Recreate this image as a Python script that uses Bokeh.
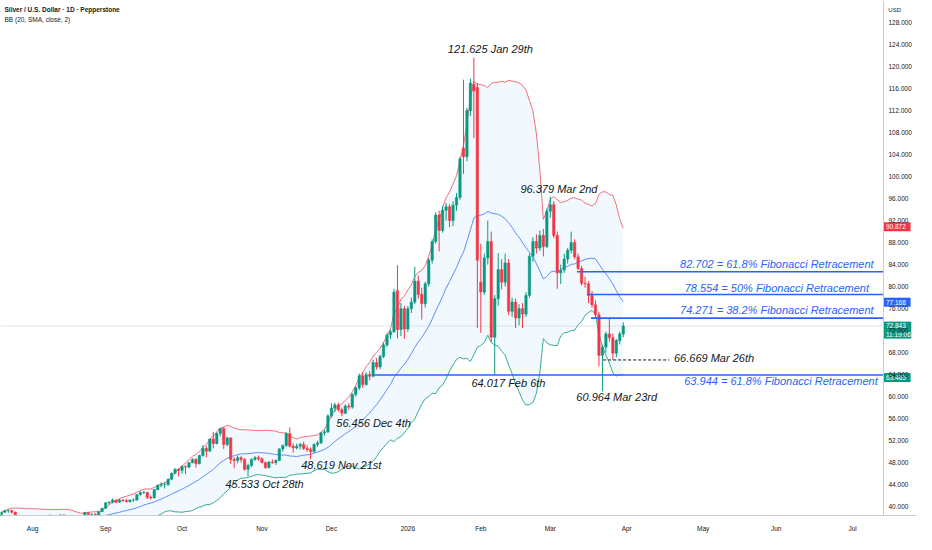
import numpy as np
import pandas as pd
from bokeh.plotting import figure
from bokeh.models import Range1d, LinearAxis, FixedTicker, Label, ColumnDataSource
from bokeh.core.properties import value
from bokeh.embed import file_html
from bokeh.resources import INLINE

# ---------------- data (bar index: Aug 1 2025 = 0, weekdays, Dec 25 / Jan 1 skipped) -------------
first_bar = -28  # Jun 24 2025

opens = [
    # Jun 24 - Jul 18 (warm-up for the bands)
    36.2, 35.9, 36.0, 36.5, 36.0, 36.1, 36.0, 36.1, 36.9, 37.0, 36.7, 36.8, 36.6, 37.0, 38.3, 38.3, 37.7, 37.9, 38.2,
    # Jul 21 - Jul 31
    38.2, 39.0, 39.3, 39.3, 39.0, 38.2, 38.2, 38.2, 37.0,
    # Aug
    36.7, 37.0, 37.3, 37.8, 37.8, 38.3, 38.3, 37.6, 37.9, 38.5, 38.0, 38.0, 38.1, 37.4, 38.0, 38.2, 38.9, 38.6, 38.6, 38.5, 39.1,
    # Sep
    39.7, 40.7, 40.8, 41.2, 40.8, 41.2, 41.1, 40.9, 41.2, 41.2, 42.2, 42.6, 42.6, 41.7, 41.6, 43.1, 43.9, 44.0, 44.0, 45.0, 46.1, 46.8,
    # Oct
    46.6, 47.3, 47.2, 48.0, 48.6, 47.8, 49.3, 50.6, 50.1, 52.3, 51.5, 53.3, 54.2, 51.3, 52.5, 48.6, 48.4, 48.9, 48.6, 46.8, 47.5, 48.6, 48.9,
    # Nov
    48.7, 48.0, 47.1, 48.1, 48.0, 48.4, 50.5, 51.1, 53.3, 51.0, 50.7, 51.0, 51.3, 50.6, 50.4, 50.0, 51.3, 51.6, 53.4, 53.6,
    # Dec
    56.5, 57.9, 58.5, 57.6, 57.0, 58.3, 58.1, 60.4, 61.6, 63.8, 62.2, 64.0, 63.7, 66.2, 65.4, 67.3, 69.4, 71.2, 71.8, 79.3, 72.2, 76.0,
    # Jan
    72.3, 76.0, 77.2, 81.0, 78.6, 76.9, 80.5, 84.8, 88.2, 93.0, 90.2, 93.9, 94.5, 92.0, 94.8, 96.2, 105.2, 103.6, 112.0, 116.8, 116.2,
    # Feb
    80.8, 79.0, 85.2, 88.2, 70.8, 77.8, 83.1, 80.8, 84.3, 75.5, 77.2, 74.3, 76.0, 75.0, 78.4, 85.5, 88.2, 87.0, 89.3, 87.3,
    # Mar
    93.7, 94.9, 89.3, 82.5, 83.0, 85.0, 86.6, 88.0, 85.4, 83.3, 80.6, 80.5, 78.4, 76.7, 74.9, 67.5, 69.0, 71.4, 70.7, 67.9, 70.2, 71.4,
]
highs = [
    36.4, 36.2, 36.8, 36.6, 36.2, 36.4, 36.3, 37.0, 37.2, 37.1, 37.0, 36.9, 37.2, 38.4, 39.1, 38.6, 38.2, 38.3, 38.5,
    39.1, 39.4, 39.5, 39.4, 39.1, 38.4, 38.4, 38.3, 37.2,
    37.3, 37.4, 37.9, 38.0, 38.4, 38.6, 38.4, 38.0, 38.6, 38.6, 38.2, 38.2, 38.2, 38.1, 38.3, 39.0, 39.0, 38.8, 38.8, 39.2, 39.8,
    40.8, 41.0, 41.5, 41.3, 41.4, 41.3, 41.4, 41.3, 41.5, 42.3, 42.8, 42.9, 42.7, 42.0, 43.2, 44.0, 44.4, 44.5, 45.1, 46.2, 47.0, 47.0,
    47.5, 47.5, 48.1, 48.8, 48.8, 49.4, 51.2, 51.0, 52.4, 53.6, 53.5, 54.3, 54.47, 52.7, 52.6, 49.0, 49.3, 49.2, 48.8, 47.8, 48.8, 49.2, 49.3,
    49.0, 48.2, 48.3, 48.6, 48.6, 50.6, 51.3, 53.5, 54.4, 51.5, 51.5, 51.6, 51.8, 51.2, 50.8, 51.5, 52.0, 53.6, 54.0, 56.8,
    58.8, 58.9, 58.9, 58.0, 58.6, 58.8, 60.6, 61.9, 64.2, 64.5, 64.4, 64.6, 66.7, 67.0, 67.6, 69.8, 71.6, 72.2, 79.6, 83.9, 77.0, 76.5,
    76.5, 78.0, 83.6, 82.0, 79.8, 80.9, 85.2, 88.6, 93.5, 93.8, 94.6, 95.2, 95.0, 95.5, 97.0, 103.6, 117.6, 112.5, 117.8, 121.625, 117.0,
    87.8, 86.0, 92.0, 90.0, 78.5, 86.1, 85.0, 86.0, 85.0, 78.0, 77.8, 76.8, 77.0, 79.0, 86.0, 89.0, 89.5, 90.2, 90.5, 94.2,
    96.379, 95.5, 90.0, 84.0, 86.0, 87.0, 90.0, 88.6, 86.0, 83.8, 81.8, 81.0, 79.2, 77.5, 75.4, 69.4, 71.8, 74.3, 71.5, 70.5, 71.8, 73.5,
]
lows = [
    35.6, 35.7, 35.9, 35.8, 35.8, 35.7, 35.8, 36.0, 36.8, 36.4, 36.5, 36.2, 36.5, 36.9, 38.1, 37.6, 37.3, 37.7, 37.9,
    38.0, 38.9, 38.9, 38.8, 38.0, 37.9, 37.9, 36.9, 36.3,
    36.3, 36.9, 37.2, 37.6, 37.7, 38.1, 37.5, 37.4, 37.8, 37.8, 37.9, 37.8, 37.3, 37.3, 37.9, 38.0, 38.5, 38.3, 38.4, 38.4, 39.0,
    39.6, 40.4, 40.6, 40.6, 40.7, 40.9, 40.8, 40.8, 40.9, 41.1, 42.0, 42.3, 41.4, 41.3, 41.5, 43.0, 43.5, 43.3, 43.8, 44.8, 45.9, 45.5,
    46.0, 45.9, 47.0, 47.9, 47.1, 47.7, 49.1, 49.0, 50.0, 50.6, 51.3, 52.8, 50.5, 51.0, 47.8, 47.0, 47.9, 48.0, 46.5, 45.533, 47.2, 48.3, 48.3,
    47.9, 46.9, 47.0, 47.8, 47.6, 48.3, 50.0, 50.9, 50.8, 49.8, 50.4, 50.4, 50.3, 50.0, 48.619, 49.8, 50.9, 51.4, 52.9, 53.4,
    56.2, 57.2, 57.3, 56.456, 56.8, 57.6, 57.8, 60.0, 61.2, 61.6, 62.0, 63.0, 63.5, 64.9, 65.0, 67.0, 69.0, 70.5, 71.6, 70.6, 71.0, 70.5,
    71.8, 75.2, 76.8, 77.8, 74.0, 76.2, 80.0, 84.2, 87.8, 86.4, 89.8, 92.0, 90.8, 91.0, 93.8, 95.8, 100.5, 102.8, 111.0, 107.0, 72.5,
    71.6, 78.5, 84.0, 70.0, 64.017, 76.5, 79.5, 80.0, 74.8, 74.5, 72.5, 73.0, 72.5, 74.5, 78.0, 84.5, 86.0, 86.5, 85.5, 87.0,
    92.5, 88.8, 79.6, 80.5, 82.5, 84.2, 86.0, 85.0, 83.0, 80.2, 79.8, 77.0, 76.2, 74.5, 65.5, 60.964, 68.0, 70.0, 66.669, 67.2, 69.5, 70.8,
]
closes = [
    35.9, 36.0, 36.5, 36.0, 36.1, 36.0, 36.1, 36.9, 37.0, 36.7, 36.8, 36.6, 37.0, 38.3, 38.3, 37.7, 37.9, 38.2, 38.2,
    39.0, 39.3, 39.3, 39.0, 38.2, 38.2, 38.2, 37.0, 36.7,
    37.0, 37.3, 37.8, 37.8, 38.3, 38.3, 37.6, 37.9, 38.5, 38.0, 38.0, 38.1, 37.4, 38.0, 38.2, 38.9, 38.6, 38.6, 38.5, 39.1, 39.7,
    40.7, 40.8, 41.2, 40.8, 41.2, 41.1, 40.9, 41.2, 41.2, 42.2, 42.6, 42.6, 41.7, 41.6, 43.1, 43.9, 44.0, 44.0, 45.0, 46.1, 46.8, 46.6,
    47.3, 47.2, 48.0, 48.6, 47.8, 49.3, 50.6, 50.1, 52.3, 51.5, 53.3, 54.2, 51.3, 52.5, 48.6, 48.4, 48.9, 48.6, 46.8, 47.5, 48.6, 48.9, 48.7,
    48.0, 47.1, 48.1, 48.0, 48.4, 50.5, 51.1, 53.3, 51.0, 50.7, 51.0, 51.3, 50.6, 50.4, 50.0, 51.3, 51.6, 53.4, 53.6, 56.5,
    57.9, 58.5, 57.6, 57.0, 58.3, 58.1, 60.4, 61.6, 63.8, 62.2, 64.0, 63.7, 66.2, 65.4, 67.3, 69.4, 71.2, 71.8, 79.0, 72.2, 76.0, 72.3,
    76.0, 77.2, 81.0, 78.6, 76.9, 80.5, 84.8, 88.2, 93.0, 90.2, 93.9, 94.5, 92.0, 94.8, 96.2, 103.2, 103.6, 112.0, 117.0, 115.6, 84.8,
    79.0, 85.2, 88.2, 70.8, 77.8, 83.1, 80.8, 84.3, 75.5, 77.2, 74.3, 76.0, 75.0, 78.4, 85.5, 88.2, 87.0, 89.3, 87.3, 93.7,
    94.9, 89.3, 82.5, 83.0, 85.0, 86.6, 88.0, 85.4, 83.3, 80.6, 80.5, 78.4, 76.7, 74.9, 67.5, 69.0, 71.4, 70.7, 67.9, 70.2, 71.4, 72.843,
]

month_ticks = [0, 21, 43, 66, 86, 108, 129, 149, 171, 193, 214, 236]
month_labels = ["Aug", "Sep", "Oct", "Nov", "Dec", "2026", "Feb", "Mar", "Apr", "May", "Jun", "Jul"]
price_ticks = list(range(40, 129, 4))
price_tick_labels = ["%d.000" % t for t in price_ticks]

swing_texts = ["121.625 Jan 29th", "96.379 Mar 2nd", "64.017 Feb 6th", "60.964 Mar 23rd",
               "45.533 Oct 28th", "48.619 Nov 21st", "56.456 Dec 4th"]
fib_levels = [82.702, 78.554, 74.271, 63.944]
fib_texts = ["82.702 = 61.8% Fibonacci Retracement", "78.554 = 50% Fibonacci Retracement",
             "74.271 = 38.2% Fibonacci Retracement", "63.944 = 61.8% Fibonacci Retracement"]
mar26_low = 66.669
mar26_text = "66.669 Mar 26th"
last_price = 72.843
countdown = "11:19:06"
bb_upper_last, bb_mid_last, bb_lower_last = 90.872, 77.168, 63.465
title_text = "Silver / U.S. Dollar \u00b7 1D \u00b7 Pepperstone"
indicator_text = "BB (20, SMA, close, 2)"
currency = "USD"

# ---------------- frame ----------------
idx = np.arange(first_bar, first_bar + len(closes))
df = pd.DataFrame(dict(x=idx, o=opens, h=highs, l=lows, c=closes))
df["top"] = df[["o", "c"]].max(axis=1)
df["bot"] = df[["o", "c"]].min(axis=1)
UP, DN, BLUE, INK = "#089981", "#f23645", "#2962ff", "#131722"
df["col"] = np.where(df.c >= df.o, UP, DN)

mid = df.c.rolling(20).mean()
sd = df.c.rolling(20).std(ddof=0)
bb = pd.DataFrame(dict(x=idx, mid=mid, up=mid + 2 * sd, lo=mid - 2 * sd)).dropna()

X0, X1, X2 = -9.25, 244.9, 254.4     # left edge, price-scale line, right edge
Y0, Y1 = 38.4, 132.0
p = figure(width=916, height=534, output_backend="svg", toolbar_location=None,
           x_range=Range1d(X0, X2), y_range=Range1d(Y0, Y1),
           x_axis_type=None, y_axis_type=None,
           min_border_left=0, min_border_top=0, min_border_right=0, min_border_bottom=0)
p.outline_line_color = None
p.background_fill_color = "white"

FONT = "Liberation Sans"
yax = LinearAxis(fixed_location=X1, ticker=FixedTicker(ticks=price_ticks),
                 major_label_overrides={t: l for t, l in zip(price_ticks, price_tick_labels)})
xax = LinearAxis(ticker=FixedTicker(ticks=month_ticks),
                 major_label_overrides={t: l for t, l in zip(month_ticks, month_labels)})
for ax in (yax, xax):
    ax.axis_line_color = "#c9ccd4"
    ax.major_tick_line_color = None
    ax.minor_tick_line_color = None
    ax.major_tick_out = 0
    ax.major_tick_in = 0
    ax.minor_tick_out = 0
    ax.major_label_text_font = FONT
    ax.major_label_text_font_size = "6.5px"
    ax.major_label_text_color = INK
yax.major_label_standoff = 5
xax.major_label_standoff = 9
p.add_layout(yax, "right")
p.add_layout(xax, "below")

# Bollinger bands
bsrc = ColumnDataSource(bb)
p.varea(x="x", y1="lo", y2="up", source=bsrc, fill_color="#2196f3", fill_alpha=0.06)
p.line("x", "up", source=bsrc, line_color=DN, line_alpha=0.8, line_width=0.9)
p.line("x", "mid", source=bsrc, line_color=BLUE, line_alpha=0.8, line_width=0.9)
p.line("x", "lo", source=bsrc, line_color=UP, line_alpha=0.9, line_width=0.9)

# last price line (plot area only)
p.segment(x0=[X0], y0=[last_price], x1=[X1], y1=[last_price], line_color="#b2b5be",
          line_alpha=0.7, line_width=1, line_dash="1 1")

# candles
src = ColumnDataSource(df)
p.segment(x0="x", y0="h", x1="x", y1="l", source=src, line_color="col", line_width=1)
p.vbar(x="x", width=0.7, top="top", bottom="bot", source=src, fill_color="col", line_color="col", line_width=0.5)

# Fibonacci lines
fib_start = [156.7, 159.6, 160.7, 98.0]
p.segment(x0=fib_start, y0=fib_levels, x1=[X1] * 4, y1=fib_levels, line_color=BLUE, line_width=1.6)
fib_text_x = [214.2, 214.2, 214.2, 215.4]
fib_text_y = [fib_levels[0] + 1.45, fib_levels[1] + 1.25, fib_levels[2] + 1.4, fib_levels[3] - 1.1]
p.text(x=fib_text_x, y=fib_text_y, text=fib_texts, text_font=value(FONT), text_font_style="italic",
       text_font_size="11px", text_color=BLUE, text_align="center", text_baseline="middle")

# Mar 26 low dashed line
p.segment(x0=[164.2], y0=[mar26_low], x1=[183.2], y1=[mar26_low], line_color=INK,
          line_width=1, line_dash="3 2")

# swing labels
sx = [119.5, 140.4, 126.3, 156.5, 55.5, 77.3, 87.4, 184.6]
sy = [123.2, 97.7, 62.4, 60.0, 44.1, 47.55, 55.2, 67.0]
p.text(x=sx, y=sy, text=swing_texts + [mar26_text], text_font=value(FONT),
       text_font_style="italic", text_font_size="11px", text_color=INK,
       text_align="left", text_baseline="middle")

# header
p.add_layout(Label(x=X0, y=130.3, x_offset=4, text=title_text, text_font=FONT, text_font_style="bold",
                   text_font_size="6.5px", text_color=INK, text_baseline="middle"))
p.add_layout(Label(x=X0, y=128.55, x_offset=4, text=indicator_text, text_font=FONT,
                   text_font_size="6.5px", text_color=INK, text_baseline="middle"))

# price scale: currency and value boxes
p.text(x=[X1 + 1.4], y=[130.3], text=[currency], text_font=value(FONT), text_font_size="6px",
       text_color=INK, text_baseline="middle")
box_vals = [bb_upper_last, bb_mid_last, bb_lower_last]
box_cols = [DN, BLUE, UP]
p.rect(x=[X1 + 3.9] * 3, y=box_vals, width=7.8, height=9, height_units="screen",
       fill_color=box_cols, line_color=None)
p.text(x=[X1 + 0.7] * 3, y=box_vals, text=["%.3f" % v for v in box_vals], text_font=value(FONT),
       text_font_size="6.5px", text_color="white", text_baseline="middle")
p.rect(x=[X1 + 4.0], y=[last_price - 0.75], width=8.0, height=17, height_units="screen",
       fill_color=UP, line_color=None)
p.text(x=[X1 + 0.7, X1 + 0.7], y=[last_price + 0.05, last_price - 1.5], text=["%.3f" % last_price, countdown],
       text_font=value(FONT), text_font_size="6.5px", text_color="white", text_baseline="middle")

open("out.html", "w").write(file_html(p, INLINE))
